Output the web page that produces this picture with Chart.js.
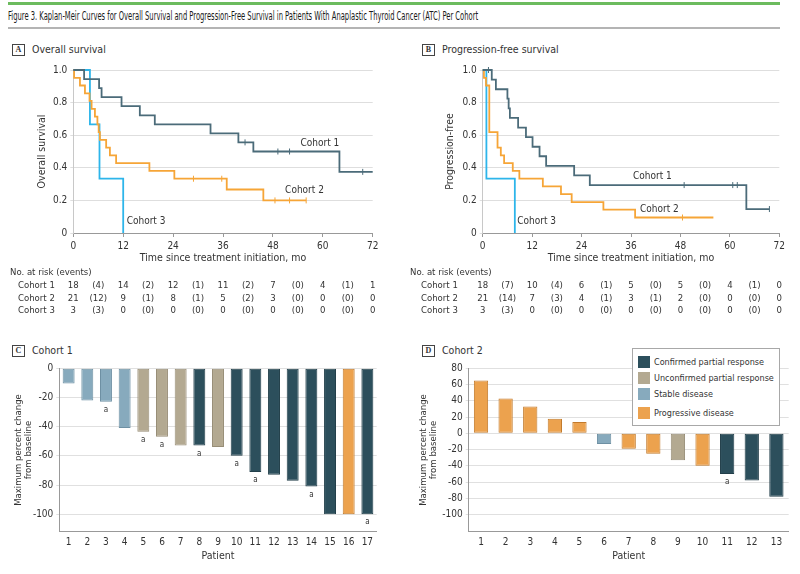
<!DOCTYPE html>
<html>
<head>
<meta charset="utf-8">
<script src="https://cdn.jsdelivr.net/npm/chart.js@4.4.1/dist/chart.umd.min.js"></script>
<style>
  body { margin: 0; width: 800px; height: 574px; position: relative; overflow: hidden; background: #fff;
         font-family: 'Liberation Sans Narrow', 'DejaVu Sans Condensed', 'Liberation Sans', sans-serif; color: #333; }
  .abs { position: absolute; }
  #ruleTop { left: 8px; top: 2px; width: 772px; height: 3px; background: #6cbb5e; }
  #ruleSub { left: 8px; top: 27px; width: 772px; height: 2px; background: #b4b4b4; }
  #title { left: 8px; top: 9px; font-size: 12px; white-space: nowrap; transform-origin: 0 0; color: #1a1a1a; }
  .tag { position: absolute; font-size: 10.5px; line-height: 12px; white-space: nowrap; }
  .tag b { display: inline-block; border: 1px solid #444; width: 11px; height: 10px; line-height: 10px; text-align: center;
           font: bold 8px 'Liberation Serif', serif; margin-right: 7px; vertical-align: 1px; }
  canvas { position: absolute; }
  #legend { left: 632px; top: 348px; width: 146px; height: 76px; border: 1px solid #a8a8a8; background: #fff; }
  #legend div { position: absolute; left: 5px; font-size: 9px; line-height: 12px; white-space: nowrap; }
  #legend span { display: inline-block; width: 12px; height: 12px; vertical-align: top; margin-right: 4px; }
</style>
</head>
<body>
<div id="ruleTop" class="abs"></div>
<div id="title" class="abs">Figure 3. Kaplan-Meir Curves for Overall Survival and Progression-Free Survival in Patients With Anaplastic Thyroid Cancer (ATC) Per Cohort</div>
<div id="ruleSub" class="abs"></div>

<div class="tag" style="left:12px;top:43px"><b>A</b>Overall survival</div>
<div class="tag" style="left:422px;top:43px"><b>B</b>Progression-free survival</div>
<div class="tag" style="left:12px;top:344px"><b>C</b>Cohort 1</div>
<div class="tag" style="left:422px;top:344px"><b>D</b>Cohort 2</div>

<canvas id="os" width="390" height="262" style="left:0;top:60px"></canvas>
<canvas id="pfs" width="400" height="262" style="left:400px;top:60px"></canvas>
<canvas id="c1" width="390" height="234" style="left:0;top:340px"></canvas>
<canvas id="c2" width="400" height="234" style="left:400px;top:340px"></canvas>
<div id="legend" class="abs"></div>

<script>
// ---- Kaplan-Meier data (months, survival probability) ----
const riskTimes = [0, 12, 24, 36, 48, 60, 72];

// overall survival
const osC1Times = [0, 2.6, 6.2, 6.8, 11.6, 16, 19.6, 33, 39.7, 43.3, 64, 72];
const osC1Surv  = [1, 0.944, 0.889, 0.833, 0.778, 0.722, 0.667, 0.611, 0.556, 0.5, 0.375, 0.375];
const osC1CensorT = [41.3, 49.2, 52, 69.6];
const osC1CensorS = [0.556, 0.5, 0.5, 0.375];

const osC2Times = [0, 0.2, 1.6, 2.8, 3.9, 4.4, 5.2, 5.8, 6.1, 6.4, 7.9, 8.8, 10.3, 18.3, 24.3, 36.9, 45.7, 56];
const osC2Surv  = [1, 0.952, 0.905, 0.857, 0.81, 0.762, 0.714, 0.667, 0.619, 0.571, 0.524, 0.476, 0.429, 0.381, 0.333, 0.267, 0.2, 0.2];
const osC2CensorT = [28.9, 35.7, 48.5, 52, 56];
const osC2CensorS = [0.333, 0.333, 0.2, 0.2, 0.2];

const osC3Times = [0, 4, 6.3, 12];
const osC3Surv  = [1, 0.667, 0.333, 0];

const osRisk = [
  { name: 'Cohort 1', atRisk: [18, 14, 12, 11, 7, 4, 1], events: [4, 2, 1, 2, 0, 1] },
  { name: 'Cohort 2', atRisk: [21, 9, 8, 5, 3, 0, 0], events: [12, 1, 1, 2, 0, 0] },
  { name: 'Cohort 3', atRisk: [3, 0, 0, 0, 0, 0, 0], events: [3, 0, 0, 0, 0, 0] }
];

// progression-free survival
const pfsC1Times = [0, 2.2, 3.2, 6.0, 6.3, 6.6, 8.6, 10.5, 12.1, 13.8, 15.4, 22.2, 26, 64, 69.6];
const pfsC1Surv  = [1, 0.941, 0.882, 0.824, 0.765, 0.706, 0.647, 0.588, 0.529, 0.471, 0.412, 0.353, 0.294, 0.147, 0.147];
const pfsC1CensorT = [1.4, 48.9, 60.7, 61.8, 69.6];
const pfsC1CensorS = [1, 0.294, 0.294, 0.294, 0.147];

const pfsC2Times = [0, 0.3, 0.8, 1.6, 3.6, 4.4, 5.2, 7.3, 8.9, 14.6, 19, 21.6, 29.3, 37, 56];
const pfsC2Surv  = [1, 0.952, 0.905, 0.619, 0.524, 0.476, 0.429, 0.381, 0.333, 0.286, 0.238, 0.19, 0.143, 0.095, 0.095];
const pfsC2CensorT = [48.5];
const pfsC2CensorS = [0.095];

const pfsC3Times = [0, 0.9, 7.8];
const pfsC3Surv  = [1, 0.333, 0];

const pfsRisk = [
  { name: 'Cohort 1', atRisk: [18, 10, 6, 5, 5, 4, 0], events: [7, 4, 1, 0, 0, 1] },
  { name: 'Cohort 2', atRisk: [21, 7, 4, 3, 2, 0, 0], events: [14, 3, 1, 1, 0, 0] },
  { name: 'Cohort 3', atRisk: [3, 0, 0, 0, 0, 0, 0], events: [3, 0, 0, 0, 0, 0] }
];

// ---- tumour response data ----
const responseNames = ['Confirmed partial response', 'Unconfirmed partial response', 'Stable disease', 'Progressive disease'];

const c1Patients = ['1','2','3','4','5','6','7','8','9','10','11','12','13','14','15','16','17'];
const c1Change   = [-10.5, -22, -23, -41, -43.5, -47, -53, -53, -54, -60, -71, -73, -77, -81, -100, -100, -100];
const c1Response = [2, 2, 2, 2, 1, 1, 1, 0, 1, 0, 0, 0, 0, 0, 0, 3, 0];
const c1Flagged  = ['3', '5', '6', '8', '10', '11', '14', '17'];

const c2Patients = ['1','2','3','4','5','6','7','8','9','10','11','12','13'];
const c2Change   = [65, 43, 33, 18, 14, -13, -19, -25, -33, -40, -50, -58, -78];
const c2Response = [3, 3, 3, 3, 3, 2, 3, 3, 1, 3, 0, 0, 0];
const c2Flagged  = ['11'];

// ---- styles ----
const FONT = "'Liberation Sans Narrow', 'DejaVu Sans Condensed', 'Liberation Sans', sans-serif";
const cohortColors = ['#4b6b79', '#f6a537', '#2db5ea'];
const responseFill = ['#2c4f5c', '#b3a991', '#87aabd', '#eca24e'];
const responseEdge = ['#223f4a', '#978d76', '#6e90a3', '#c27a2c'];

Chart.defaults.font.family = FONT;
Chart.defaults.font.size = 10;
Chart.defaults.color = '#333';

// text labels inside the KM plot and the number-at-risk table under it
const kmExtras = {
  id: 'kmExtras',
  afterDraw(chart, args, opts) {
    const { ctx } = chart;
    const xs = chart.scales.x, ys = chart.scales.y;
    ctx.save();
    ctx.fillStyle = '#333';
    ctx.textBaseline = 'middle';
    ctx.font = '10px ' + FONT;
    ctx.textAlign = 'center';
    opts.labels.forEach(l => ctx.fillText(l.text, xs.getPixelForValue(l.x), ys.getPixelForValue(l.y)));

    ctx.font = '9.5px ' + FONT;
    ctx.textAlign = 'left';
    ctx.fillText('No. at risk (events)', opts.headX, opts.headY);
    opts.rows.forEach((r, i) => {
      const y = opts.rowY + i * opts.rowGap;
      ctx.textAlign = 'left';
      ctx.fillText(r.name, opts.nameX, y);
      ctx.textAlign = 'center';
      r.atRisk.forEach((n, j) => ctx.fillText(String(n), xs.getPixelForValue(riskTimes[j]), y));
      r.events.forEach((n, j) => ctx.fillText('(' + n + ')', xs.getPixelForValue(riskTimes[j] + 6), y));
    });
    ctx.restore();
  }
};

// the little "a" under flagged bars
const barNotes = {
  id: 'barNotes',
  afterDatasetsDraw(chart, args, opts) {
    const { ctx } = chart;
    const meta = chart.getDatasetMeta(0);
    ctx.save();
    ctx.font = '8px ' + FONT;
    ctx.fillStyle = '#333';
    ctx.textAlign = 'center';
    ctx.textBaseline = 'middle';
    chart.data.labels.forEach((lab, i) => {
      if (opts.flagged.includes(lab)) {
        const bar = meta.data[i];
        ctx.fillText('a', bar.x, bar.y + 8);
      }
    });
    ctx.restore();
  }
};

function kmChart(id, curves, censors, yTitle, box, labels, risk) {
  const datasets = [];
  curves.forEach((c, i) => {
    datasets.push({
      data: c.t.map((t, k) => ({ x: t, y: c.s[k] })),
      stepped: 'before',
      borderColor: cohortColors[i],
      borderWidth: 1.8,
      pointRadius: 0,
      fill: false,
      clip: 4
    });
  });
  censors.forEach(c => {
    datasets.push({
      data: c.t.map((t, k) => ({ x: t, y: c.s[k] })),
      showLine: false,
      pointStyle: 'line',
      rotation: 90,
      radius: 3,
      borderColor: cohortColors[c.cohort],
      borderWidth: 1,
      clip: 6
    });
  });

  return new Chart(document.getElementById(id), {
    type: 'line',
    data: { datasets },
    plugins: [kmExtras],
    options: {
      responsive: false,
      animation: false,
      layout: { padding: { left: box.left, right: box.right, top: 10, bottom: 52 } },
      plugins: {
        legend: { display: false },
        tooltip: { enabled: false },
        kmExtras: Object.assign({ labels, rows: risk, headY: 213, rowY: 226, rowGap: 12.2 }, box.table)
      },
      scales: {
        x: {
          type: 'linear',
          min: 0, max: 72,
          ticks: { stepSize: 12, padding: 3, color: '#333' },
          grid: { drawOnChartArea: false, drawTicks: true, tickLength: 4, color: '#999' },
          border: { color: '#999' },
          title: { display: true, text: 'Time since treatment initiation, mo', font: { size: 10.5 }, padding: { top: 0, bottom: 5 } },
          afterFit: s => { s.height = 37; }
        },
        y: {
          min: 0, max: 1,
          ticks: { stepSize: 0.2, padding: 3, color: '#333', callback: v => (v === 0 ? '0' : v.toFixed(1)) },
          grid: { color: '#dedede', tickLength: 3 },
          border: { color: '#c8c8c8' },
          title: { display: true, text: yTitle, font: { size: 10.5 }, padding: { top: 2, bottom: 0 } },
          afterFit: s => { s.width = box.yWidth; }
        }
      }
    }
  });
}

kmChart('os',
  [{ t: osC1Times, s: osC1Surv }, { t: osC2Times, s: osC2Surv }, { t: osC3Times, s: osC3Surv }],
  [{ t: osC1CensorT, s: osC1CensorS, cohort: 0 }, { t: osC2CensorT, s: osC2CensorS, cohort: 1 }],
  'Overall survival',
  { left: 34, right: 17.3, yWidth: 39.3, table: { headX: 10, nameX: 18 } },
  [{ text: 'Cohort 1', x: 59.3, y: 0.55 }, { text: 'Cohort 2', x: 55.6, y: 0.26 }, { text: 'Cohort 3', x: 17.5, y: 0.07 }],
  osRisk);

kmChart('pfs',
  [{ t: pfsC1Times, s: pfsC1Surv }, { t: pfsC2Times, s: pfsC2Surv }, { t: pfsC3Times, s: pfsC3Surv }],
  [{ t: pfsC1CensorT, s: pfsC1CensorS, cohort: 0 }, { t: pfsC2CensorT, s: pfsC2CensorS, cohort: 1 }],
  'Progression-free',
  { left: 42, right: 20.7, yWidth: 40.7, table: { headX: 10, nameX: 21 } },
  [{ text: 'Cohort 1', x: 41.2, y: 0.345 }, { text: 'Cohort 2', x: 42.9, y: 0.145 }, { text: 'Cohort 3', x: 13.1, y: 0.07 }],
  pfsRisk);

function barChart(id, patients, change, response, flagged, yMin, yMax, box) {
  return new Chart(document.getElementById(id), {
    type: 'bar',
    data: {
      labels: patients,
      datasets: [{
        data: change,
        backgroundColor: response.map(r => responseFill[r]),
        borderColor: response.map(r => responseEdge[r]),
        borderWidth: 1,
        borderSkipped: false,
        barPercentage: box.bar,
        categoryPercentage: 1
      }]
    },
    plugins: [barNotes],
    options: {
      responsive: false,
      animation: false,
      layout: { padding: { left: box.left, right: box.right, top: 28.3, bottom: 8 } },
      plugins: { legend: { display: false }, tooltip: { enabled: false }, barNotes: { flagged } },
      scales: {
        x: {
          ticks: { padding: 5, color: '#333' },
          grid: { display: false, drawTicks: false },
          border: { color: '#999' },
          title: { display: true, text: 'Patient', font: { size: 10.5 }, padding: { top: 0, bottom: 3 } },
          afterFit: s => { s.height = 34.3; }
        },
        y: {
          min: yMin, max: yMax,
          ticks: { stepSize: 20, padding: 3, color: '#333', callback: v => (v % 20 === 0 ? String(v) : '') },
          grid: { color: c => (c.tick.value % 20 === 0 ? '#e0e0e0' : 'rgba(0,0,0,0)'), tickLength: 3 },
          border: { color: '#999' },
          title: { display: true, text: ['Maximum percent change', 'from baseline'], font: { size: 9.5, lineHeight: 1.05 }, padding: { top: 2, bottom: 0 } },
          afterFit: s => { s.width = box.yWidth; }
        }
      }
    }
  });
}

barChart('c1', c1Patients, c1Change, c1Response, c1Flagged, -112, 0, { left: 11.3, right: 13.3, yWidth: 48, bar: 0.64 });
barChart('c2', c2Patients, c2Change, c2Response, c2Flagged, -121, 80, { left: 17, right: 11.3, yWidth: 51.7, bar: 0.58 });

// legend box for panel D
const legend = document.getElementById('legend');
const rowTops = [7, 22.5, 39, 57.5];
responseNames.forEach((name, i) => {
  const d = document.createElement('div');
  d.style.top = rowTops[i] + 'px';
  d.innerHTML = '<span style="background:' + responseFill[i] + ';border:0"></span>' + name;
  legend.appendChild(d);
});

// squeeze the figure title to the printed width
const title = document.getElementById('title');
title.style.transform = 'scaleX(' + (470 / title.offsetWidth) + ')';
</script>
</body>
</html>
